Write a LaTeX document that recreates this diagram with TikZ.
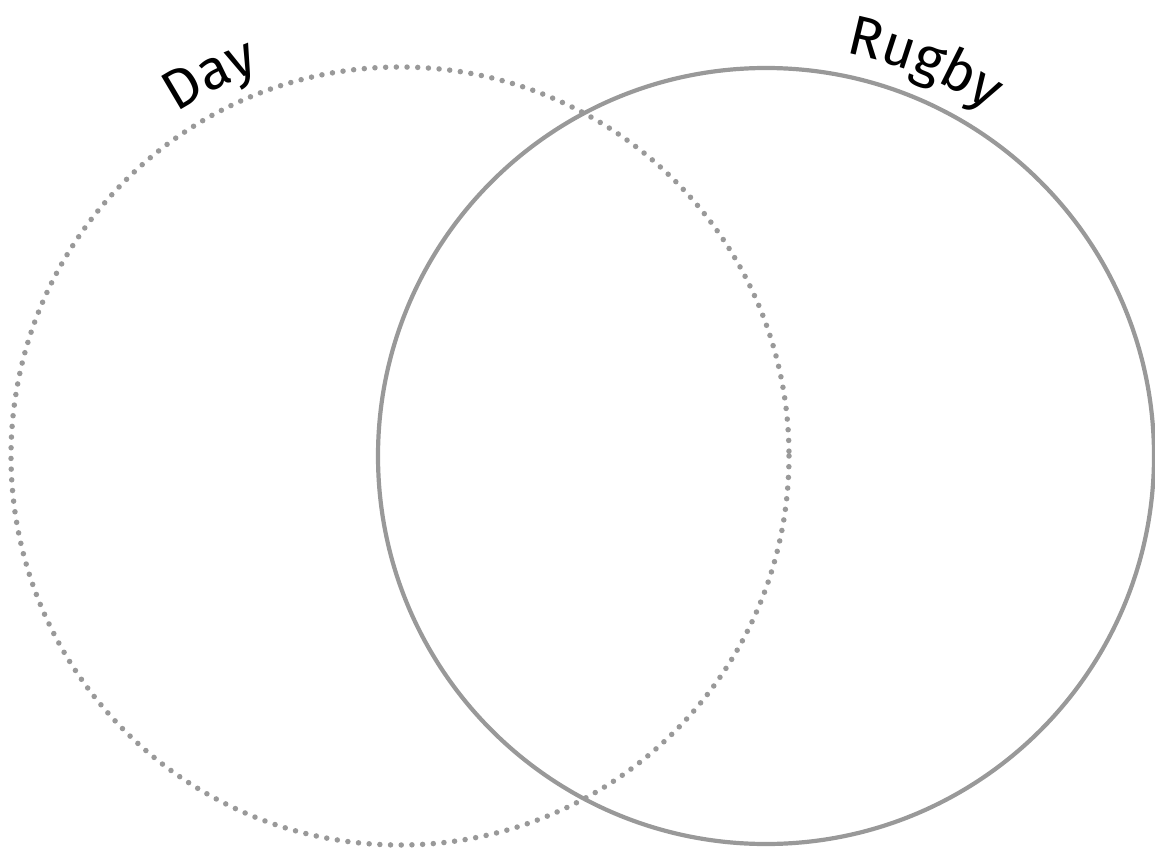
\documentclass[tikz,border=0pt]{standalone}
\usepackage{fontspec}
\newfontfamily\labelfont{Fira Sans}
\usetikzlibrary{decorations.text}
\definecolor{ringgray}{HTML}{999999}
\tikzset{
  solidring/.style={draw=ringgray, line width=4.2pt},
  dotring/.style={draw=ringgray, line width=5.5pt, line cap=round, dash pattern=on 0pt off 10.7pt},
  arclabel/.style={decorate, decoration={text along path, text align=center,
     text format delimiters={|}{|}, text={#1}}}
}
\begin{document}
\begin{tikzpicture}[x=1pt,y=-1pt]
\useasboundingbox (0,0) rectangle (1155,850);
\coordinate (cday) at (400,456);
\coordinate (crugby) at (766,456);
\draw[dotring] (cday) circle[radius=389];
\draw[solidring] (crugby) circle[radius=388];
% labels along the circles (y axis points down, so angles are mirrored)
\path[arclabel={|\labelfont\fontsize{56}{60}\selectfont|Day}]
  (cday) ++(-131:410) arc[start angle=-131, end angle=-102, radius=410];
\path[arclabel={|\labelfont\fontsize{56}{60}\selectfont|Rugby}]
  (crugby) ++(-85:411) arc[start angle=-85, end angle=-51, radius=411];
\end{tikzpicture}
\end{document}
